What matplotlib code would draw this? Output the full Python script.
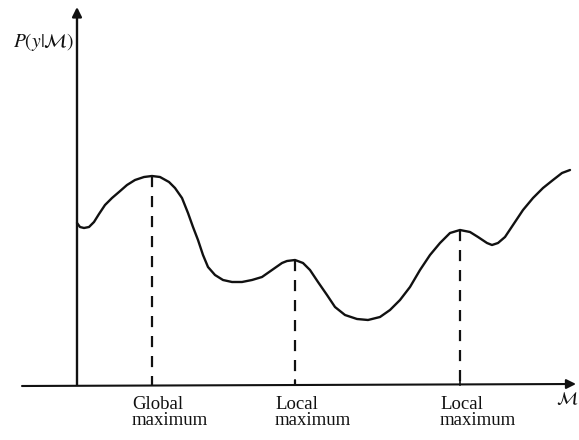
import matplotlib
matplotlib.use("Agg")
import matplotlib.pyplot as plt

plt.rcParams['font.family'] = ['Liberation Serif', 'DejaVu Serif']
plt.rcParams['mathtext.fontset'] = 'stix'

# Likelihood curve P(y|M) sampled along the model axis
model_x = [0, 3, 7, 12, 17, 22, 28, 35, 42, 50, 58, 67, 75, 83, 92, 98, 105,
           111, 116, 121, 126, 131, 138, 146, 155, 165, 175, 185, 195, 205,
           210, 218, 226, 233, 241, 250, 258, 268, 280, 291, 303, 313, 323,
           333, 343, 353, 363, 373, 383, 393, 401, 410, 415, 421, 428, 436,
           446, 456, 466, 476, 485, 493]
likelihood = [162, 158, 157, 158, 163, 171, 180, 187, 193, 200, 205, 208, 209,
              208, 203, 197, 187, 172, 158, 145, 130, 118, 110, 105, 103, 103,
              105, 108, 115, 122, 124, 125, 122, 115, 103, 90, 78, 70, 66, 65,
              68, 75, 85, 98, 115, 130, 142, 152, 155, 153, 148, 142, 140, 142,
              148, 160, 175, 187, 197, 205, 212, 215]

# Marked maxima: position on the model axis, curve height, label
max_x = [75, 218, 383]
max_y = [209, 125, 155]
max_labels = ["Global\nmaximum", "Local\nmaximum", "Local\nmaximum"]

fig = plt.figure(figsize=(5.79, 4.40), dpi=100)
ax = fig.add_axes([0, 0, 1, 1])
ax.set_xlim(-77, 502)
ax.set_ylim(-55, 385)
ax.axis('off')

ink = '#111111'

# axes with arrow heads
ax.annotate('', xy=(0, 378), xytext=(0, 0),
            arrowprops=dict(arrowstyle='-|>', color=ink, lw=1.7,
                            mutation_scale=14, shrinkA=0, shrinkB=0))
ax.annotate('', xy=(499, 1), xytext=(-55, -1),
            arrowprops=dict(arrowstyle='-|>', color=ink, lw=1.5,
                            mutation_scale=14, shrinkA=0, shrinkB=0))

# curve
ax.plot(model_x, likelihood, color=ink, lw=1.7, solid_capstyle='round',
        solid_joinstyle='round')

# dashed drop lines and labels at the maxima
for x, y, lab in zip(max_x, max_y, max_labels):
    ax.plot([x, x], [y, 0], color=ink, lw=1.6, linestyle=(0, (5, 4)))
    ax.plot([x, x], [0, 5], color=ink, lw=1.2)
    ax.text(x - 20, -11, lab, ha='left', va='top', fontsize=13.5,
            color=ink, linespacing=0.95)

# axis labels
ax.text(-3, 343, r'$P(y|\mathcal{M})$', ha='right', va='center',
        fontsize=14, color=ink)
ax.text(501, -14, r'$\mathcal{M}$', ha='right', va='center',
        fontsize=13, color=ink)

fig.savefig('out.png', dpi=100)
